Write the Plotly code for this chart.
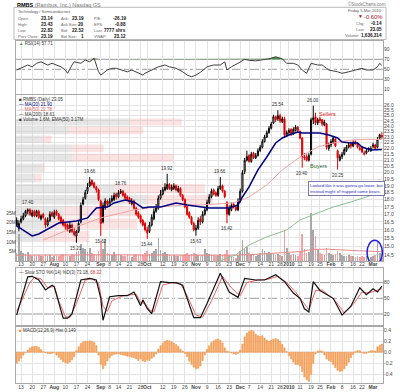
import numpy as np
import plotly.graph_objects as go

# ---------------- data ----------------
close = [16.3, 16.4, 16.7, 16.9, 17.2, 17.3, 17.0, 17.1, 16.9, 17.2,
         16.8, 16.9, 16.8, 16.3, 16.6, 17.0, 16.9, 17.1, 17.0, 16.7,
         16.5, 16.3, 16.2, 16.0, 16.3, 15.9, 15.7, 15.9, 16.4, 17.6,
         18.0, 18.5, 18.9, 19.3, 19.1, 18.9, 18.7, 18.0, 16.4, 17.6,
         17.9, 17.7, 17.9, 18.1, 18.3, 18.2, 18.5, 18.6, 18.3, 18.1,
         18.0, 17.8, 17.9, 17.4, 17.0, 16.8, 16.5, 16.3, 16.0, 15.8,
         16.3, 16.8, 17.2, 17.5, 18.1, 18.4, 18.7, 18.9, 19.1, 18.8,
         18.9, 19.0, 18.7, 18.8, 18.3, 18.0, 17.5, 17.0, 16.8, 16.4,
         16.0, 16.1, 16.6, 16.5, 17.0, 17.3, 17.8, 18.2, 18.6, 18.4,
         18.3, 18.8, 19.0, 18.6, 18.2, 17.0, 17.4, 17.6, 17.5, 17.3,
         17.9, 18.6, 20.0, 21.0, 21.3, 20.9, 21.5, 21.2, 21.4, 21.8,
         22.1, 22.6, 23.0, 23.4, 23.8, 24.2, 24.9, 24.6, 25.0, 24.5,
         24.7, 23.2, 23.4, 23.6, 23.3, 23.7, 23.9, 23.6, 22.9, 21.3,
         21.2, 21.0, 21.4, 24.6, 24.8, 24.3, 24.6, 24.5, 24.2, 24.4,
         22.1, 22.3, 22.6, 22.9, 22.2, 21.2, 21.3, 21.5, 21.9, 22.1,
         22.3, 22.2, 22.5, 22.4, 22.1, 22.0, 21.7, 21.6, 21.8, 21.9,
         22.0, 22.2, 22.0, 22.8, 23.19, 23.05]
open_ = [16.6, 16.1, 16.5, 16.7, 16.9, 17.2, 17.3, 16.9, 17.2, 16.9,
         17.2, 16.7, 17.0, 16.7, 16.3, 16.6, 17.1, 16.8, 17.2, 17.0,
         16.8, 16.6, 16.4, 16.3, 15.9, 16.3, 15.9, 15.6, 15.9, 16.5,
         17.7, 18.1, 18.6, 19.0, 19.4, 19.2, 18.9, 18.7, 17.9, 16.5,
         17.5, 17.9, 17.6, 17.9, 18.0, 18.4, 18.2, 18.5, 18.6, 18.4,
         18.2, 18.1, 17.7, 17.9, 17.4, 17.1, 16.9, 16.6, 16.4, 16.0,
         15.9, 16.3, 16.7, 17.2, 17.4, 18.1, 18.4, 18.7, 18.8, 19.1,
         18.7, 18.8, 19.0, 18.6, 18.8, 18.3, 18.0, 17.5, 17.1, 16.8,
         16.4, 16.0, 16.1, 16.7, 16.5, 17.0, 17.3, 17.8, 18.2, 18.7,
         18.5, 18.3, 18.8, 19.0, 18.6, 17.8, 17.0, 17.3, 17.7, 17.5,
         17.3, 17.9, 18.6, 20.1, 21.0, 21.4, 20.9, 21.6, 21.2, 21.4,
         21.8, 22.1, 22.6, 23.0, 23.4, 23.8, 24.3, 24.9, 24.7, 25.0,
         24.4, 24.7, 23.1, 23.4, 23.7, 23.3, 23.6, 23.9, 23.5, 22.9,
         21.3, 21.3, 21.0, 21.5, 24.6, 24.9, 24.3, 24.7, 24.6, 24.1,
         24.2, 22.0, 22.3, 22.5, 22.8, 21.8, 21.0, 21.3, 21.5, 21.8,
         22.1, 22.4, 22.2, 22.6, 22.4, 21.9, 22.1, 21.5, 21.6, 22.0,
         21.8, 22.3, 22.3, 22.1, 22.9, 23.14]
high = [16.8, 16.6, 16.9, 17.1, 17.3, 17.40, 17.4, 17.3, 17.3, 17.3,
        17.3, 17.0, 17.1, 16.8, 16.8, 17.2, 17.2, 17.3, 17.3, 17.1,
        16.9, 16.7, 16.5, 16.4, 16.5, 16.4, 16.1, 16.0, 16.6, 17.8,
        18.2, 18.7, 19.2, 19.66, 19.5, 19.3, 19.0, 18.8, 18.0, 17.8,
        18.1, 18.0, 18.1, 18.3, 18.5, 18.5, 18.7, 18.76, 18.7, 18.5,
        18.3, 18.2, 18.1, 18.0, 17.5, 17.2, 17.0, 16.7, 16.5, 16.2,
        16.5, 17.0, 17.4, 17.7, 18.3, 18.7, 18.9, 19.2, 19.92, 19.2,
        19.1, 19.2, 19.1, 19.0, 18.9, 18.4, 18.1, 17.6, 17.2, 16.9,
        16.5, 16.3, 16.8, 16.9, 17.2, 17.5, 18.0, 18.4, 18.8, 18.8,
        18.6, 19.0, 19.66, 19.1, 18.7, 17.9, 17.6, 17.8, 17.8, 17.6,
        18.1, 18.8, 20.2, 21.2, 21.8, 21.5, 21.7, 21.7, 21.6, 22.0,
        22.3, 22.8, 23.2, 23.6, 24.0, 24.4, 25.1, 25.0, 25.54, 25.2,
        24.9, 24.9, 23.6, 23.8, 23.8, 23.9, 24.1, 24.0, 23.6, 23.0,
        21.6, 21.5, 21.6, 24.8, 26.00, 25.3, 24.8, 24.9, 24.7, 24.6,
        24.3, 22.5, 22.8, 23.1, 22.9, 21.9, 21.5, 21.7, 22.1, 22.3,
        22.5, 22.6, 22.7, 22.7, 22.5, 22.2, 22.2, 21.8, 22.0, 22.1,
        22.2, 22.5, 22.4, 23.0, 23.3, 23.43]
low = [16.2, 15.9, 16.4, 16.6, 16.8, 17.0, 16.9, 16.8, 16.8, 16.8,
       16.7, 16.6, 16.7, 16.1, 16.2, 16.5, 16.8, 16.7, 16.9, 16.6,
       16.4, 16.2, 16.0, 15.9, 15.8, 15.8, 15.6, 15.21, 15.8, 16.4,
       17.6, 18.0, 18.4, 18.9, 19.0, 18.8, 18.5, 17.9, 15.62, 16.4,
       17.3, 17.5, 17.5, 17.8, 17.9, 18.0, 18.1, 18.4, 18.2, 18.0,
       17.9, 17.7, 17.6, 17.3, 16.9, 16.7, 16.4, 16.2, 15.9, 15.44,
       15.8, 16.2, 16.6, 17.1, 17.3, 18.0, 18.3, 18.6, 18.7, 18.7,
       18.6, 18.7, 18.6, 18.5, 18.2, 17.9, 17.4, 16.9, 16.7, 16.3,
       15.9, 15.63, 16.0, 16.3, 16.4, 16.9, 17.2, 17.7, 18.1, 18.3,
       18.2, 18.2, 18.7, 18.5, 18.1, 16.42, 16.9, 17.2, 17.4, 17.2,
       17.2, 17.8, 18.5, 19.9, 20.9, 20.8, 20.8, 21.1, 21.1, 21.3,
       21.7, 22.0, 22.5, 22.9, 23.3, 23.7, 24.2, 24.4, 24.5, 24.3,
       24.3, 23.0, 23.0, 23.2, 23.1, 23.2, 23.5, 23.4, 22.8, 20.40,
       21.0, 20.9, 20.9, 21.4, 24.2, 24.1, 24.1, 24.3, 24.0, 24.0,
       21.9, 21.8, 22.1, 22.4, 22.1, 20.25, 20.9, 21.1, 21.4, 21.7,
       22.0, 22.0, 22.1, 22.3, 22.0, 21.8, 21.6, 21.4, 21.5, 21.7,
       21.7, 22.0, 21.9, 22.0, 22.8, 22.83]
volume_m = [4.0, 14.0, 5.0, 4.0, 3.5, 4.5, 3.0, 2.5, 3.0, 2.5,
            3.0, 2.5, 2.8, 3.5, 2.5, 3.0, 2.2, 2.8, 2.5, 2.5,
            3.0, 3.5, 3.0, 2.8, 2.5, 3.5, 3.0, 4.5, 5.0, 9.0,
            7.0, 6.0, 4.5, 7.0, 4.0, 3.5, 3.0, 5.0, 10.5, 6.0,
            11.5, 4.0, 3.5, 3.0, 4.5, 3.0, 3.5, 3.0, 2.5, 2.5,
            3.0, 2.5, 2.0, 3.0, 3.5, 3.0, 3.5, 3.0, 4.0, 5.0,
            3.5, 4.0, 5.0, 6.5, 12.0, 5.5, 4.0, 4.5, 3.5, 3.0,
            2.5, 3.0, 2.5, 2.5, 3.0, 3.0, 3.5, 4.0, 3.0, 3.5,
            4.0, 3.5, 3.0, 2.5, 3.0, 6.0, 4.0, 3.5, 3.0, 3.0,
            2.5, 3.0, 3.5, 3.0, 3.5, 5.5, 3.0, 2.5, 2.0, 1.5,
            3.0, 5.0, 11.0, 6.0, 7.5, 4.0, 3.5, 3.0, 2.5, 3.0,
            4.0, 6.5, 5.0, 4.0, 4.5, 3.5, 4.0, 3.0, 3.5, 3.0,
            2.5, 16.0, 7.0, 4.0, 3.0, 3.5, 3.0, 2.5, 5.0, 14.0,
            6.0, 4.0, 4.5, 25.0, 16.0, 13.0, 6.0, 4.0, 3.5, 3.0,
            7.0, 4.0, 3.5, 3.0, 3.5, 5.0, 4.0, 3.0, 2.5, 2.5,
            3.0, 2.5, 2.5, 2.0, 2.5, 2.0, 2.5, 2.0, 2.5, 2.0,
            2.0, 2.5, 3.0, 10.0, 4.0, 1.6]
macd_hist = [-0.20, -0.16, -0.11, -0.05, -0.01,
             0.04, 0.08, 0.10, 0.11, 0.11, 0.09, 0.05,
             0.01, -0.01, -0.02, -0.03, -0.02, -0.01,
             -0.05, -0.09, -0.13, -0.17, -0.19, -0.20, -0.18, -0.14, -0.08,
             0.03,
             0.10, 0.16, 0.19, 0.20, 0.20, 0.21, 0.20, 0.18, 0.12,
             -0.05, -0.22, -0.30, -0.24, -0.16, -0.10,
             -0.06, -0.04, -0.03, -0.03, -0.04, -0.05, -0.06, -0.07, -0.08, -0.09, -0.10, -0.12,
             -0.15, -0.12, -0.16, -0.17, -0.14, -0.15, -0.11, -0.08, -0.03,
             0.06, 0.12, 0.17, 0.20, 0.22, 0.21, 0.19, 0.17, 0.14, 0.11, 0.06,
             0.02, -0.02, -0.08,
             -0.16, -0.22, -0.27, -0.30, -0.29,
             -0.25, -0.15, -0.05,
             0.05, 0.12, 0.18, 0.21, 0.23, 0.24, 0.22, 0.17, 0.08,
             0.02, 0.01, -0.01,
             -0.03, -0.04, -0.02, 0.04,
             0.15, 0.28, 0.35, 0.38, 0.40, 0.38, 0.33, 0.30, 0.29, 0.30,
             0.26, 0.22, 0.20, 0.22, 0.24, 0.25, 0.23, 0.20, 0.14,
             0.08, 0.01,
             -0.06, -0.12, -0.18, -0.22, -0.22, -0.25, -0.35, -0.45, -0.50, -0.53, -0.40, -0.20,
             -0.03, 0.02, 0.03, 0.02,
             -0.05, -0.12, -0.15, -0.17, -0.22, -0.28, -0.33, -0.35, -0.34, -0.30, -0.24, -0.18, -0.10, -0.04,
             0.01, 0.03, 0.03, -0.01, -0.02, -0.02, 0.01, 0.03, 0.03, 0.02, 0.10, 0.13, 0.149]

# moving averages / indicator lines read at sparse day positions
ma20_day = [0, 4, 7, 10, 15, 19, 23, 27, 32, 36, 41, 44, 49, 53, 57, 60, 65, 68, 72, 77, 83, 87, 92, 96,
            100, 102, 105, 109, 113, 117, 120, 123, 127, 129, 132, 137, 141, 145, 147, 151, 154, 156, 160, 165]
ma20_val = [16.24, 15.86, 15.62, 15.74, 16.11, 16.43, 16.50, 16.56, 16.76, 17.43, 17.49, 17.77, 17.98, 17.84,
            17.43, 17.49, 17.49, 17.63, 17.77, 17.63, 17.49, 17.43, 17.43, 17.43, 17.63, 18.19, 18.92, 20.22,
            21.27, 22.47, 22.91, 23.18, 23.46, 23.37, 23.37, 23.37, 23.18, 22.91, 22.56, 22.47, 22.47, 22.12,
            21.87, 21.90]
ma50_day = [12, 23, 38, 53, 60, 75, 83, 98, 105, 113, 120, 128, 136, 143, 151, 158, 165]
ma50_val = [15.37, 15.99, 16.76, 17.29, 17.43, 17.63, 17.63, 17.77, 18.19, 19.07, 20.22, 21.27, 22.12,
            22.47, 22.73, 22.80, 22.78]
ma200_day = [90, 99, 105, 113, 122, 128, 136, 143, 151, 158, 165]
ma200_val = [14.10, 14.50, 15.08, 15.56, 15.99, 16.62, 17.09, 17.49, 17.84, 18.19, 18.61]
vol_ema_day = [0, 40, 80, 100, 110, 120, 129, 133, 140, 150, 160, 165]
vol_ema_val = [3.0, 3.2, 3.0, 3.0, 3.6, 4.4, 5.0, 6.0, 6.2, 5.6, 5.0, 4.8]

rsi_day = [0, 2, 5, 7, 9, 11, 14, 16, 18, 20, 22, 23, 25, 26, 29, 31, 33, 35, 37, 38, 41, 43, 45, 48, 50,
           52, 54, 57, 58, 61, 64, 67, 69, 72, 75, 77, 79, 81, 83, 86, 89, 92, 94, 95, 97, 100, 103, 105,
           108, 111, 114, 117, 119, 120, 122, 125, 127, 129, 131, 133, 136, 138, 140, 141, 145, 147, 150,
           153, 156, 158, 161, 163, 164, 165]
rsi_val = [48.6, 52, 58.6, 55, 62, 65, 58.6, 62, 58.6, 55, 48.6, 42, 58.6, 65, 62, 68.6, 65, 72, 45, 38.6,
           48.6, 52, 52, 48.6, 45, 48.6, 45, 38.6, 42, 48.6, 55, 58.6, 55, 52, 45, 38.6, 35, 38.6, 44, 55,
           58.6, 58.6, 65, 48.6, 55, 62, 70, 68, 67, 69, 71, 75, 72, 71, 62, 62, 58.6, 48.6, 42, 62, 58.6,
           58.6, 52, 48.6, 45, 42, 45, 48.6, 52, 48.6, 48.6, 55, 62, 57.71]

stok_day = [0, 5, 7, 10, 13, 16, 17, 21, 23, 25, 29, 33, 36, 38, 39, 42, 46, 50, 53, 55, 56, 57, 59, 61,
            65, 69, 72, 75, 80, 83, 86, 92, 96, 100, 103, 108, 112, 117, 121, 125, 128, 130, 132, 134,
            137, 143, 146, 147, 151, 155, 158, 161, 163, 165]
stok_val = [18, 91, 92, 85, 66, 75, 72, 12, 12, 20, 85, 88, 85, 50, 8, 53, 55, 55, 62, 45, 36, 47, 30, 21,
            82, 80, 80, 75, 13, 13, 40, 98, 62, 52, 88, 85, 85, 95, 82, 60, 50, 30, 24, 82,
            65, 50, 25, 18, 35, 70, 57, 68, 62, 73.18]
stod_day = [0, 6, 8, 11, 14, 17, 19, 22, 24, 27, 31, 34, 37, 39, 41, 43, 48, 52, 54, 56, 58, 60, 62, 66,
            70, 74, 77, 81, 84, 88, 93, 97, 101, 104, 109, 113, 118, 122, 126, 129, 132, 135, 138, 144,
            148, 152, 156, 159, 162, 165]
stod_val = [25, 80, 90, 87, 70, 73, 45, 15, 13, 40, 85, 88, 78, 35, 25, 45, 55, 57, 58, 42, 40, 28, 24, 75,
            80, 78, 55, 18, 14, 45, 92, 70, 55, 80, 85, 86, 92, 80, 62, 45, 28, 65, 66, 45,
            22, 38, 62, 60, 64, 68.32]

# volume-by-price bins
vbp_lo = [24.0, 23.2, 22.4, 21.6, 20.8, 20.0, 19.2, 18.4, 17.6, 16.8, 16.0, 15.2]
vbp_hi = [24.8, 24.0, 23.2, 22.4, 21.6, 20.8, 20.0, 19.2, 18.4, 17.6, 16.8, 16.0]
vbp_up = [18.6, 8.5, 4.2, 9.2, 9.2, 4.2, 3.1, 16.2, 21.4, 7.7, 5.6, 4.0]
vbp_down = [8.5, 12.3, 1.6, 5.1, 16.5, 0.5, 1.1, 14.7, 10.8, 12.3, 14.2, 8.0]

tick_day = [2, 7, 12, 17, 22, 27, 32, 38, 42, 46, 51, 56, 59, 66, 71, 76, 81, 86, 91, 96, 101, 105, 110,
            115, 119, 123, 128, 133, 137, 142, 147, 152, 156, 161]
tick_text = ['13', '20', '27', 'Aug', '10', '17', '24', 'Sep', '8', '14', '21', '28', 'Oct', '12', '19',
             '26', 'Nov', '9', '16', '23', 'Dec', '7', '14', '21', '28', '2010', '11', '19', '25', 'Feb',
             '8', '16', '22', 'Mar']

price_label_day = [5, 27, 33, 38, 47, 59, 68, 81, 92, 95, 118, 129, 134, 145]
price_label_kind = ['h', 'l', 'h', 'l', 'h', 'l', 'h', 'l', 'h', 'l', 'h', 'l', 'h', 'l']

sellers_zone = (115.8, 165.5, 24.75, 25.57)
buyers_level = (31, 160.6, 20.04)
resist_level = (110.9, 163.3, 22.88)

n = len(close)
assert all(len(a) == n for a in (open_, high, low, volume_m, macd_hist)), \
    [len(a) for a in (close, open_, high, low, volume_m, macd_hist)]
days = list(range(n))

# ---------------- geometry helpers ----------------
W, H = 400, 392
PL, PR = 16, 383
def X(px): return (px - PL) / (PR - PL)
def Y(px): return 1 - px / H

XR = [-0.3, 165.5]
FONT = "Liberation Sans, Arial, sans-serif"
GRID = '#E4E4E4'
BORDER = '#A8A8A8'

fig = go.Figure()

# ---- volume by price (base subplot of price panel) ----
GAP = 0.06
def rects(x0s, x1s, lo, hi):
    xs, ys = [], []
    for a, b, l, h in zip(x0s, x1s, lo, hi):
        l2, h2 = l + GAP, h - GAP
        xs += [a, b, b, a, a, None]
        ys += [l2, l2, h2, h2, l2, None]
    return xs, ys

gx, gy = rects([0] * len(vbp_up), vbp_up, vbp_lo, vbp_hi)
px_, py_ = rects(vbp_up, [u + d for u, d in zip(vbp_up, vbp_down)], vbp_lo, vbp_hi)
fig.add_trace(go.Scatter(x=gx, y=gy, fill='toself', fillcolor='rgba(200,200,200,0.45)',
                         line=dict(width=0), mode='lines', xaxis='x2', yaxis='y2', hoverinfo='skip'))
fig.add_trace(go.Scatter(x=px_, y=py_, fill='toself', fillcolor='rgba(245,175,175,0.35)',
                         line=dict(width=0), mode='lines', xaxis='x2', yaxis='y2', hoverinfo='skip'))

# ---- volume bars ----
up_day = [i == 0 or close[i] >= close[i - 1] for i in days]
vcol = ['#A8A8A8' if u else '#F2A2A2' for u in up_day]
fig.add_trace(go.Bar(x=days, y=volume_m, marker=dict(color=vcol, line=dict(width=0)), width=0.75,
                     xaxis='x3', yaxis='y3'))
fig.add_trace(go.Scatter(x=vol_ema_day, y=vol_ema_val, mode='lines', line=dict(color='#F08A8A', width=1),
                         xaxis='x3', yaxis='y3'))

# ---- MA lines ----
fig.add_trace(go.Scatter(x=ma200_day, y=ma200_val, mode='lines', line=dict(color='#8DBF8D', width=1),
                         xaxis='x4', yaxis='y2'))
fig.add_trace(go.Scatter(x=ma50_day, y=ma50_val, mode='lines', line=dict(color='#F4A3A3', width=1),
                         xaxis='x4', yaxis='y2'))

# ---- candles ----
def sub(arr, mask):
    return [a for a, m in zip(arr, mask) if m]
for mask, col in ((up_day, '#000000'), ([not u for u in up_day], '#E00000')):
    fig.add_trace(go.Candlestick(
        x=sub(days, mask), open=sub(open_, mask), high=sub(high, mask),
        low=sub(low, mask), close=sub(close, mask),
        increasing=dict(line=dict(color=col, width=1), fillcolor='#FFFFFF'),
        decreasing=dict(line=dict(color=col, width=1), fillcolor=col),
        whiskerwidth=0, xaxis='x4', yaxis='y2', hoverinfo='skip'))

fig.add_trace(go.Scatter(x=ma20_day, y=ma20_val, mode='lines', line=dict(color='#000080', width=1.5),
                         xaxis='x4', yaxis='y2'))

# ---- RSI ----
fig.add_trace(go.Scatter(x=rsi_day, y=[70] * len(rsi_day), mode='lines', line=dict(width=0),
                         xaxis='x', yaxis='y', hoverinfo='skip'))
fig.add_trace(go.Scatter(x=rsi_day, y=[max(v, 70) for v in rsi_val], mode='lines', line=dict(width=0),
                         fill='tonexty', fillcolor='#3C9A3C', xaxis='x', yaxis='y', hoverinfo='skip'))
fig.add_trace(go.Scatter(x=rsi_day, y=rsi_val, mode='lines', line=dict(color='#404040', width=1),
                         xaxis='x', yaxis='y'))

# ---- Slow stochastic ----
fig.add_trace(go.Scatter(x=stod_day, y=stod_val, mode='lines', line=dict(color='#F06060', width=1),
                         xaxis='x5', yaxis='y5'))
fig.add_trace(go.Scatter(x=stok_day, y=stok_val, mode='lines', line=dict(color='#111111', width=1.2),
                         xaxis='x5', yaxis='y5'))

# ---- MACD histogram ----
fig.add_trace(go.Bar(x=days, y=macd_hist, width=0.6,
                     marker=dict(color='#F8AA66', line=dict(color='#EE8A3A', width=0.5)),
                     xaxis='x6', yaxis='y6'))

# ---------------- layout ----------------
tick_lbl = ['<b>%s</b>' % t if not t.isdigit() or t == '2010' else t for t in tick_text]
tf = dict(family=FONT, size=5, color='#444')

def xax(**kw):
    d = dict(range=XR, tickvals=tick_day, ticktext=tick_lbl, showgrid=True, gridcolor=GRID,
             gridwidth=1, zeroline=False, ticks='', ticklen=0, tickfont=tf, showline=True,
             linecolor=BORDER, mirror=True, fixedrange=True, ticklabelstandoff=-1, tickangle=0,
             ticklabeloverflow='allow', automargin=False)
    d.update(kw)
    return d

def yax(**kw):
    d = dict(side='right', showgrid=False, zeroline=False, ticks='', ticklen=0, tickfont=tf,
             showline=True, linecolor=BORDER, mirror=True, fixedrange=True, ticklabelstandoff=-1,
             ticklabeloverflow='allow', automargin=False)
    d.update(kw)
    return d

rsi_dom = [Y(94), Y(41)]
price_dom = [Y(261), Y(95)]
sto_dom = [Y(325), Y(268)]
macd_dom = [Y(383), Y(327)]

price_ticks = [round(14.5 + 0.5 * k, 1) for k in range(24)]
vol_top = (261 - 95) / 1.92

fig.update_layout(
    width=W, height=H, margin=dict(l=PL, r=W - PR, t=0, b=0, autoexpand=False),
    paper_bgcolor='white', plot_bgcolor='white', showlegend=False,
    font=dict(family=FONT, size=6, color='#333'), bargap=0,
    xaxis=xax(domain=[0, 1], anchor='y', showticklabels=False),
    yaxis=yax(domain=rsi_dom, anchor='x', range=[0.6, 106.6], tickvals=[10, 30, 50, 70, 90]),
    xaxis2=dict(domain=[0, 1], anchor='y2', range=[0, 60], showticklabels=False, showgrid=False,
                zeroline=False, ticks='', showline=True, linecolor=BORDER, mirror=True, fixedrange=True),
    yaxis2=yax(domain=price_dom, anchor='x2', type='log',
               range=[np.log10(14.16), np.log10(27.11)], tickvals=price_ticks,
               ticktext=['%.1f' % v for v in price_ticks], showgrid=True, gridcolor=GRID),
    xaxis3=dict(overlaying='x2', anchor='y3', range=XR, visible=False, fixedrange=True),
    yaxis3=dict(overlaying='y2', anchor='x3', side='left', range=[0, vol_top],
                tickvals=[5, 10, 15, 20, 25], ticktext=['5M', '10M', '15M', '20M', '25M'],
                showgrid=False, zeroline=False, ticks='', ticklen=0,
                tickfont=dict(family=FONT, size=5, color='#444'), ticklabelstandoff=-1,
                ticklabeloverflow='allow', showline=False, fixedrange=True, automargin=False),
    xaxis4=xax(overlaying='x2', anchor='y2', side='bottom', showline=False,
               rangeslider=dict(visible=False)),
    xaxis5=xax(domain=[0, 1], anchor='y5', showticklabels=False),
    yaxis5=yax(domain=sto_dom, anchor='x5', range=[-1, 107.9], tickvals=[20, 50, 80]),
    xaxis6=xax(domain=[0, 1], anchor='y6'),
    yaxis6=yax(domain=macd_dom, anchor='x6', range=[-0.558, 0.46],
               tickvals=[-0.4, -0.2, 0, 0.2, 0.4], ticktext=['-0.4', '-0.2', '0.0', '0.2', '0.4'],
               showgrid=True, gridcolor=GRID),
)

shapes = []
for yv, dash, ref in ((70, 'solid', 'y'), (30, 'solid', 'y'), (50, 'dashdot', 'y'),
                      (80, 'solid', 'y5'), (20, 'solid', 'y5'), (50, 'dashdot', 'y5'),
                      (0, 'solid', 'y6')):
    shapes.append(dict(type='line', xref='paper', yref=ref, x0=0, x1=1, y0=yv, y1=yv,
                       line=dict(color='#9A9A9A', width=1, dash=dash), layer='below'))
shapes.append(dict(type='rect', xref='paper', yref='paper', x0=X(14), x1=X(386), y0=Y(39.5), y1=Y(7.3),
                   line=dict(color='#BBBBBB', width=1), fillcolor='white', layer='below'))
sx0, sx1, slo, shi = sellers_zone
shapes.append(dict(type='rect', xref='x4', yref='y2', x0=sx0, x1=sx1, y0=np.log10(slo), y1=np.log10(shi),
                   line=dict(color='#E02020', width=1.5)))
bx0, bx1, bl = buyers_level
shapes.append(dict(type='line', xref='x4', yref='y2', x0=bx0, x1=bx1, y0=np.log10(bl), y1=np.log10(bl),
                   line=dict(color='#2828E0', width=1.5)))
rx0, rx1, rl = resist_level
shapes.append(dict(type='line', xref='x4', yref='y2', x0=rx0, x1=rx1, y0=np.log10(rl), y1=np.log10(rl),
                   line=dict(color='#F08080', width=1.5, dash='dot')))
shapes.append(dict(type='line', xref='x4', yref='y2', x0=148.7, x1=154.2, y0=np.log10(19.05),
                   y1=np.log10(21.19), line=dict(color='#000000', width=1)))
shapes.append(dict(type='circle', xref='x3', yref='y3', x0=158.3, x1=165.2, y0=-2.0, y1=10.8,
                   line=dict(color='#2020E0', width=1.5)))
fig.update_layout(shapes=shapes)

ann = []
def txt(s, xpx, ypx, anchor='left', size=6, color='#333', **kw):
    ann.append(dict(text=s, x=X(xpx), y=Y(ypx), xref='paper', yref='paper', xanchor=anchor,
                    yanchor='middle', showarrow=False, font=dict(family=FONT, size=size, color=color), **kw))

LS, VS = 4.0, 4.6
txt('<b><span style="color:#000">RMBS</span></b> (Rambus, Inc.) Nasdaq GS', 15, 4.8, color='#777', size=5.5)
txt('©StockCharts.com', 388, 4.3, 'right', 4.5, '#777')
txt('Technology / Semiconductors', 16, 11.7, color='#555', size=LS)
rows = [('Open:', '23.14', 'Ask:', '23.19', 'P/E:', '-26.19'),
        ('High:', '23.43', 'Ask Size:', '20', 'EPS:', '-0.88'),
        ('Low:', '22.83', 'Bid:', '22.52', 'Last:', '7777 shrs'),
        ('Prev Close:', '23.19', 'Bid Size:', '1', 'VWAP:', '23.12')]
for r, ypx in zip(rows, (18.3, 24.3, 30.0, 36.0)):
    txt(r[0], 16, ypx, color='#666', size=LS)
    txt('<b>%s</b>' % r[1], 55, ypx, 'right', VS, '#111')
    txt(r[2], 59, ypx, color='#666', size=LS)
    txt('<b>%s</b>' % r[3], 86, ypx, 'right', VS, '#111')
    txt(r[4], 92, ypx, color='#666', size=LS)
    txt('<b>%s</b>' % r[5], 128, ypx, 'right', VS, '#111')
txt('Friday 5-Mar-2010', 384, 10.7, 'right', LS, '#555')
txt('▼', 360, 16.5, 'center', 5, '#A01020')
txt('-0.60%', 384, 17.0, 'right', 5.8, '#A01020')
txt('Chg:', 354, 23.7, color='#666', size=LS)
txt('<b>-0.14</b>', 384, 23.7, 'right', VS, '#111')
txt('Last:', 354, 29.5, color='#666', size=LS)
txt('<b>23.05</b>', 384, 29.5, 'right', VS, '#111')
txt('Volume:', 343, 35.3, color='#666', size=LS)
txt('<b>1,636,314</b>', 384, 35.3, 'right', VS, '#111')

txt('<span style="color:#3C9A3C">▲</span> RSI(14) 57.71', 17, 43.8, size=4.5, color='#333')
txt('■ RMBS (Daily) 23.05', 17, 100, size=4.5, color='#333')
txt('<span style="color:#000080">—</span> MA(20) 21.90', 17, 104.8, size=4.5, color='#000080')
txt('<span style="color:#F08080">—</span> MA(50) 22.78', 17, 109.6, size=4.5, color='#E06060')
txt('— MA(200) 18.61', 17, 114.4, size=4.5, color='#333')
txt('■ Volume 1.6M, EMA(50) 3.17M', 17, 119.2, size=4.5, color='#333')
txt('— Slow STO %K(14) %D(3) 73.18, <span style="color:#E03030">68.32</span>', 17, 272.5, size=4.5,
    color='#333')
txt('<span style="color:#F89040">■</span> MACD(12,26,9) Hist 0.149', 17, 330.5, size=4.5, color='#333')

for d, k in zip(price_label_day, price_label_kind):
    v = high[d] if k == 'h' else low[d]
    ann.append(dict(text='%.2f' % v, x=d, y=np.log10(v), xref='x4', yref='y2', showarrow=False,
                    yanchor='bottom' if k == 'h' else 'top', yshift=1 if k == 'h' else -1,
                    font=dict(family=FONT, size=4.5, color='#333')))

ann.append(dict(text='Sellers', x=140.2, y=np.log10(25.17), xref='x4', yref='y2', showarrow=False,
                font=dict(family=FONT, size=5.5, color='#E02020')))
ann.append(dict(text='Buyers', x=136.2, y=np.log10(20.5), xref='x4', yref='y2', showarrow=False,
                font=dict(family=FONT, size=5.5, color='#2E6B2E')))
ann.append(dict(text='Looked like it was gonna go lower, but<br>instead might of trapped some bears.',
                x=149.1, y=np.log10(18.77), xref='x4', yref='y2', showarrow=False, align='left',
                bgcolor='white', bordercolor='#7A7AA8', borderwidth=1, borderpad=1,
                font=dict(family=FONT, size=4.3, color='#2A2AC8')))
fig.update_layout(annotations=ann)

fig.write_html("out.html", config={'displayModeBar': False, 'staticPlot': True},
               post_script="document.body.style.margin='0';document.body.style.padding='0';"
                           "document.body.style.overflow='hidden';")
